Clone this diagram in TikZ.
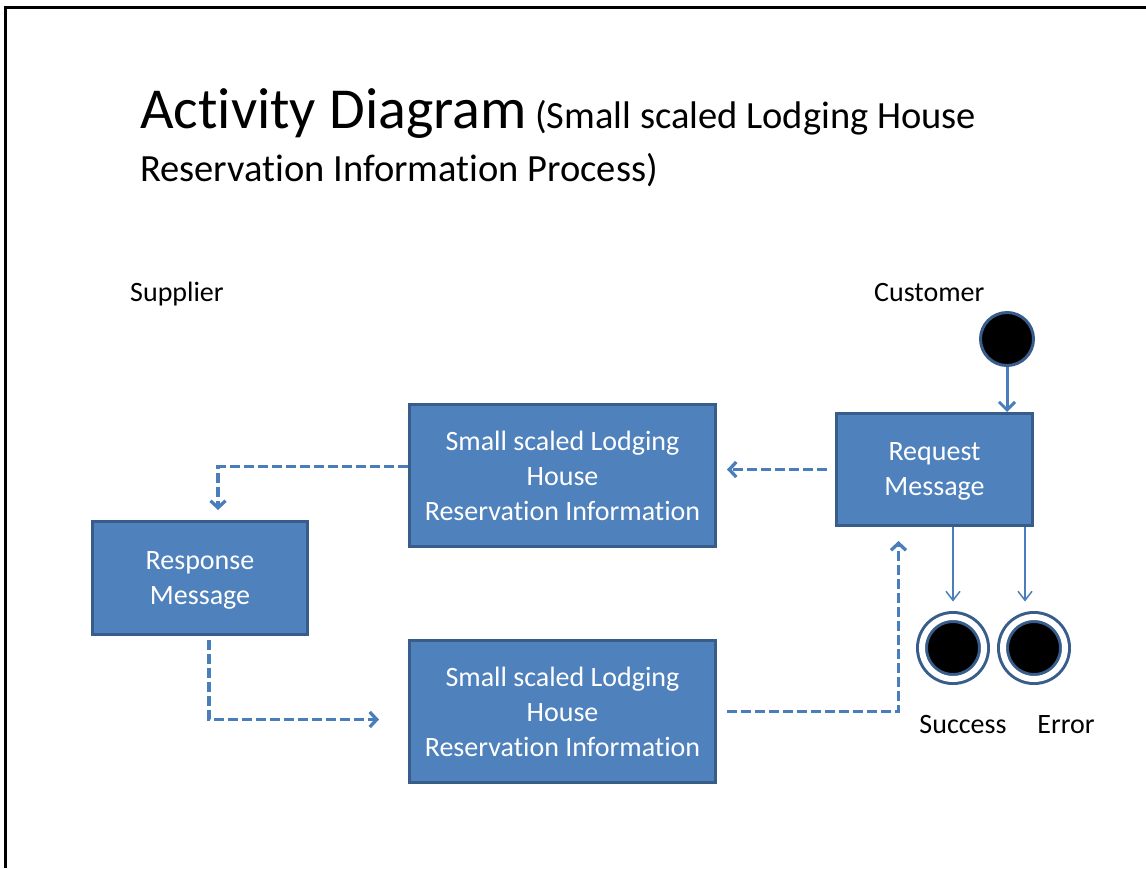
\documentclass[tikz,border=0pt]{standalone}
\usepackage{fontspec}
\setmainfont{Carlito}[Ligatures=NoCommon]
\usetikzlibrary{arrows.meta}
\definecolor{boxblue}{HTML}{4F81BD}
\definecolor{edgeblue}{HTML}{385D8A}
\definecolor{lineblue}{HTML}{4A7EBB}
\begin{document}
\begin{tikzpicture}[x=1pt, y=-1pt,
	box/.style={draw=edgeblue, line width=3pt, fill=boxblue, text=white, align=center, inner sep=0pt, font=\fontsize{28}{35}\selectfont},
	msgbox/.style={box, text depth=0pt},
	lbl/.style={inner sep=0pt, font=\fontsize{28}{34}\selectfont},
	flow/.style={draw=lineblue, line width=3.3pt, dash pattern=on 10pt off 4pt, -{Straight Barb[length=7pt,width=15pt]}},
	solidflow/.style={draw=lineblue, line width=3pt, -{Straight Barb[length=8pt,width=16pt]}},
	thinflow/.style={draw=lineblue, line width=1.5pt, -{Straight Barb[length=9pt,width=14pt]}},
	startnode/.style={circle, fill=black, draw=edgeblue, line width=3pt, minimum size=53pt, inner sep=0pt},
	endnode/.style={circle, fill=black, draw=edgeblue, line width=3pt, double=white, double distance=6pt, minimum size=62pt, inner sep=0pt}]
	\useasboundingbox (0,0) rectangle (1146,868);
	\draw[line width=3pt] (1146,7) -- (5,7) -- (5,868);
	\node[anchor=base west, inner sep=0pt, font=\fontsize{58}{70}\selectfont] (title) at (140,128) {Activity Diagram};
	\node[anchor=base west, inner sep=0pt, font=\fontsize{38.5}{46}\selectfont] (subA) at (535,128) {(Small scaled Lodging House};
	\node[anchor=base west, inner sep=0pt, font=\fontsize{38.5}{46}\selectfont] (subB) at (140,181) {Reservation Information Process)};
	\node[lbl, anchor=base west] (supplier) at (130,301) {Supplier};
	\node[lbl, anchor=base west] (customer) at (874,301) {Customer};
	\node[startnode] (start) at (1007,339) {};
	\node[msgbox, minimum width=196pt, minimum height=112pt] (req) at (934.5,469.5) {Request\\Message};
	\node[box, minimum width=306pt, minimum height=142pt] (infoA) at (562.5,475.5) {Small scaled Lodging\\House\\Reservation Information};
	\node[msgbox, minimum width=215pt, minimum height=113pt] (resp) at (200,578) {Response\\Message};
	\node[box, minimum width=306pt, minimum height=142pt] (infoB) at (562.5,711.5) {Small scaled Lodging\\House\\Reservation Information};
	\node[endnode] (succ) at (953,648) {};
	\node[endnode] (err) at (1034,648) {};
	\node[lbl, anchor=base] (succlbl) at (963,733) {Success};
	\node[lbl, anchor=base] (errlbl) at (1066,733) {Error};
	\draw[solidflow] (start) -- (start |- req.north);
	\draw[flow, shorten <=8pt, shorten >=10pt] (req.west) -- (req.west -| infoA.east);
	\draw[flow, shorten >=10pt] ([yshift=9pt]infoA.west) -| ([xshift=18pt]resp.north);
	\draw[flow, shorten <=4pt, shorten >=29pt] ([xshift=9pt]resp.south) |- ([yshift=-8pt]infoB.west);
	\draw[flow, shorten <=10pt, shorten >=14pt] (infoB.east) -| ([xshift=-36pt]req.south);
	\draw[thinflow] (succ.north |- req.south) -- ([yshift=14pt]succ.north);
	\draw[thinflow] ([xshift=-9pt]err.north |- req.south) -- ([xshift=-9pt,yshift=14pt]err.north);
\end{tikzpicture}
\end{document}
